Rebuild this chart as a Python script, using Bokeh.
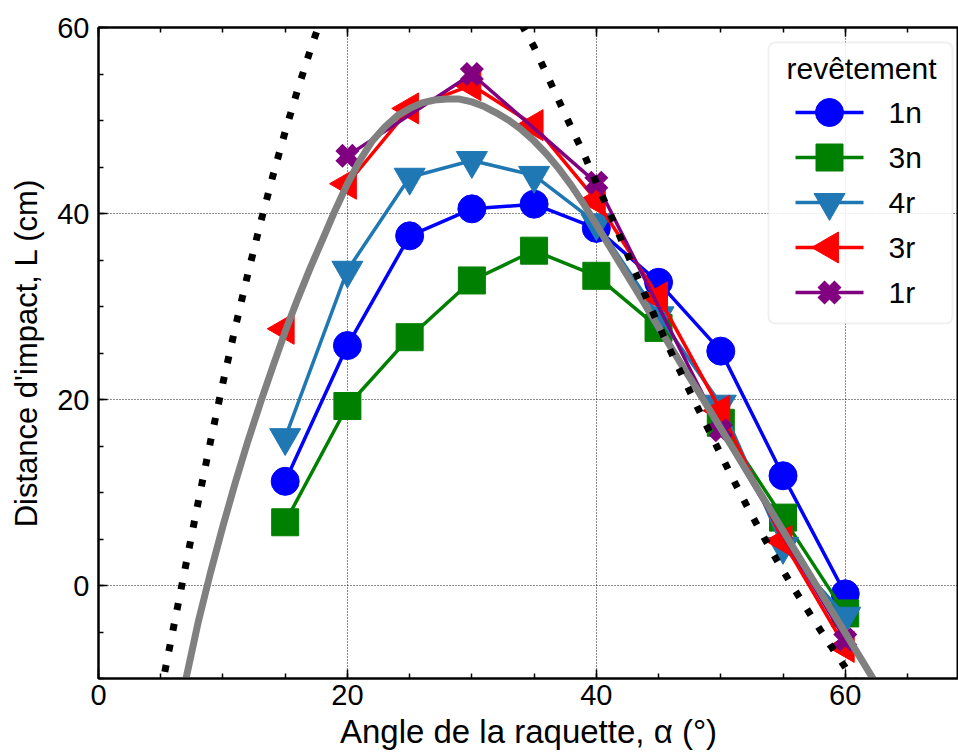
from bokeh.plotting import figure
from bokeh.models import LinearAxis, SingleIntervalTicker, Range1d, BoxAnnotation
from bokeh.core.properties import value
from bokeh.embed import file_html
from bokeh.resources import INLINE

# ---------------- data ----------------
angles = [15, 20, 25, 30, 35, 40, 45, 50, 55, 60]
L_1n = [11.2, 25.8, 37.6, 40.5, 41.0, 38.4, 32.6, 25.2, 11.8, -0.9]
L_3n = [6.8, 19.3, 26.7, 32.8, 36.0, 33.3, 27.7, 17.5, 7.3, -3.0]
L_4r = [15.9, 33.9, 43.9, 45.7, 44.1, 39.0, 29.0, 19.5, 4.2, -3.3]
L_3r = [27.6, 43.2, 51.3, 53.8, 49.5, 41.4, 31.0, 18.8, 4.8, -6.6]
angles_1r = [20, 30, 40, 50, 60]
L_1r = [46.2, 55.0, 43.3, 16.7, -5.8]

model_angle = [7, 8, 9, 10, 11, 12, 13, 14, 15, 16, 17, 18, 19, 20, 21, 22, 23, 24, 25,
               26, 27, 28, 29, 30, 31, 32, 33, 34, 35, 36, 37, 38, 39, 40, 41, 42, 43,
               44, 45, 46, 47, 48, 49, 50, 51, 52, 53, 54, 55, 56, 57, 58, 59, 60, 61,
               62, 63]
model_L = [-10.2, -4.0, 1.4, 6.4, 11.1, 15.5, 19.6, 23.5, 27.3, 30.8, 34.1, 37.2, 40.3,
           43.2, 45.7, 47.8, 49.3, 50.5, 51.3, 51.9, 52.2, 52.3, 52.3, 52.0, 51.5, 50.8,
           50.0, 49.0, 47.8, 46.4, 44.8, 43.0, 41.0, 38.8, 36.6, 34.4, 32.2, 30.0, 27.8,
           25.6, 23.4, 21.3, 19.1, 16.9, 14.7, 12.5, 10.3, 8.1, 5.9, 3.7, 1.5, -0.7,
           -2.9, -5.1, -7.3, -9.5, -11.7]

bound_lo_angle = [5, 6, 7, 8, 9, 10, 11, 12, 13, 14, 15, 16, 17, 18]
bound_lo_L = [-11.5, -4.7, 2.1, 8.9, 15.5, 21.8, 27.8, 33.5, 38.9, 44.0, 48.8, 53.3, 57.5, 61.4]
bound_hi_angle = [34, 35, 36, 37, 38, 39, 40, 41, 42, 43, 44, 45, 46, 47, 48, 49, 50, 51,
                  52, 53, 54, 55, 56, 57, 58, 59, 60, 61]
bound_hi_L = [60.3, 57.9, 55.0, 52.1, 49.2, 46.4, 43.3, 40.3, 37.2, 34.1, 31.0, 28.0, 25.1,
              22.3, 19.5, 16.8, 14.1, 11.4, 8.8, 6.3, 3.9, 1.6, -0.6, -2.7, -4.8, -6.8,
              -8.8, -10.8]

series_names = ["1n", "3n", "4r", "3r", "1r"]
legend_title = "revêtement"
x_ticks = [0, 20, 40, 60]
y_ticks = [0, 20, 40, 60]

# ---------------- layout / style ----------------
FONT = "Liberation Sans"
W, H = 958, 755
FRAME_L, FRAME_T, FRAME_B = 98, 27, 77
X0, X1 = 0, 69.1
Y0, Y1 = -10, 60
FRAME_W = W - FRAME_L
FRAME_H = H - FRAME_T - FRAME_B


def sx2data(px):
    return X0 + (px - FRAME_L) / FRAME_W * (X1 - X0)


def sy2data(py):
    return Y1 - (py - FRAME_T) / FRAME_H * (Y1 - Y0)


p = figure(width=W, height=H, output_backend="svg", toolbar_location=None,
           x_range=Range1d(X0, X1), y_range=Range1d(Y0, Y1),
           min_border_left=FRAME_L, min_border_right=0, min_border_top=FRAME_T,
           min_border_bottom=FRAME_B, x_axis_label="Angle de la raquette, α (°)",
           y_axis_label="Distance d'impact, L (cm)")
p.background_fill_color = "white"
p.border_fill_color = "white"
p.outline_line_color = "black"
p.outline_line_width = 2

for ax in (p.xaxis[0], p.yaxis[0]):
    ax.ticker = SingleIntervalTicker(interval=20, num_minor_ticks=4)
    ax.major_tick_in = 9
    ax.major_tick_out = 0
    ax.minor_tick_in = 5
    ax.minor_tick_out = 0
    ax.axis_line_width = 2
    ax.major_tick_line_width = 1.5
    ax.minor_tick_line_width = 1.5
    ax.major_label_text_font = FONT
    ax.major_label_text_font_size = "29px"
    ax.major_label_text_color = "black"
    ax.axis_label_text_font = FONT
    ax.axis_label_text_font_style = "normal"
    ax.axis_label_text_color = "black"
p.xaxis[0].axis_label_text_font_size = "33px"
p.yaxis[0].axis_label_text_font_size = "31px"
p.xaxis[0].major_label_standoff = 6
p.xaxis[0].axis_label_standoff = 5
p.yaxis[0].major_label_standoff = 9
p.yaxis[0].axis_label_standoff = 10

top = LinearAxis(ticker=SingleIntervalTicker(interval=20, num_minor_ticks=4),
                 major_tick_in=9, major_tick_out=0, minor_tick_in=5, minor_tick_out=0,
                 major_label_overrides={t: "" for t in x_ticks},
                 major_label_text_font_size="1px", major_label_standoff=0,
                 axis_line_width=2, major_tick_line_width=1.5, minor_tick_line_width=1.5)
p.add_layout(top, "above")

p.xgrid.ticker = SingleIntervalTicker(interval=20)
p.ygrid.ticker = SingleIntervalTicker(interval=20)
for g in (p.xgrid[0], p.ygrid[0]):
    g.grid_line_color = "black"
    g.grid_line_dash = "1 2"
    g.grid_line_width = 1
    g.grid_line_alpha = 0.9

colors = ["#0000ff", "#008000", "#1f77b4", "#ff0000", "#800080"]
xs = [angles, angles, angles, angles, angles_1r]
ys = [L_1n, L_3n, L_4r, L_3r, L_1r]
markers = ["circle", "square", "inverted_triangle", "triangle", "x"]
sizes = [28, 27, 31, 31, 24]
rot = [0, 0, 0, 1.5708, 0]


def draw_marker(x, y, m, s, c, a, level="glyph"):
    if m == "x":
        return p.scatter(x, y, marker=m, size=s, line_color=c, line_width=10,
                         level=level)
    return p.scatter(x, y, marker=m, size=s, fill_color=c, line_color=c,
                     line_width=1, angle=a, level=level)


for c, x, y, m, s, a in zip(colors, xs, ys, markers, sizes, rot):
    p.line(x, y, line_color=c, line_width=3.5)
    draw_marker(x, y, m, s, c, a)

p.line(model_angle, model_L, line_color="#808080", line_width=7)
p.line(bound_lo_angle, bound_lo_L, line_color="black", line_width=7, line_dash="7 14")
p.line(bound_hi_angle, bound_hi_L, line_color="black", line_width=7, line_dash="7 14")

# ---------------- legend (drawn by hand to keep the left-pointing triangle) ----------------
LEG_L, LEG_R, LEG_T, LEG_B = 768, 952, 42, 323
box = BoxAnnotation(left=sx2data(LEG_L), right=sx2data(LEG_R),
                    top=sy2data(LEG_T), bottom=sy2data(LEG_B),
                    fill_color="white", fill_alpha=0.85,
                    line_color="#cccccc", line_width=2, border_radius=7)
p.add_layout(box)

p.text(x=[sx2data(861)], y=[sy2data(68)], text=[legend_title],
       text_align="center", text_baseline="middle", text_font=value(FONT),
       text_font_size="30px", text_color="black", level="overlay")

row_y = [112, 157, 202, 247, 292]
for name, c, m, s, a, ry in zip(series_names, colors, markers, sizes, rot, row_y):
    yy = sy2data(ry)
    p.segment(x0=[sx2data(795)], y0=[yy], x1=[sx2data(863)], y1=[yy],
              line_color=c, line_width=3.5, level="overlay")
    draw_marker([sx2data(829)], [yy], m, s, c, a, level="overlay")
    p.text(x=[sx2data(888)], y=[yy], text=[name], text_align="left",
           text_baseline="middle", text_font=value(FONT), text_font_size="30px",
           text_color="black", level="overlay")

open("out.html", "w").write(file_html(p, INLINE))
